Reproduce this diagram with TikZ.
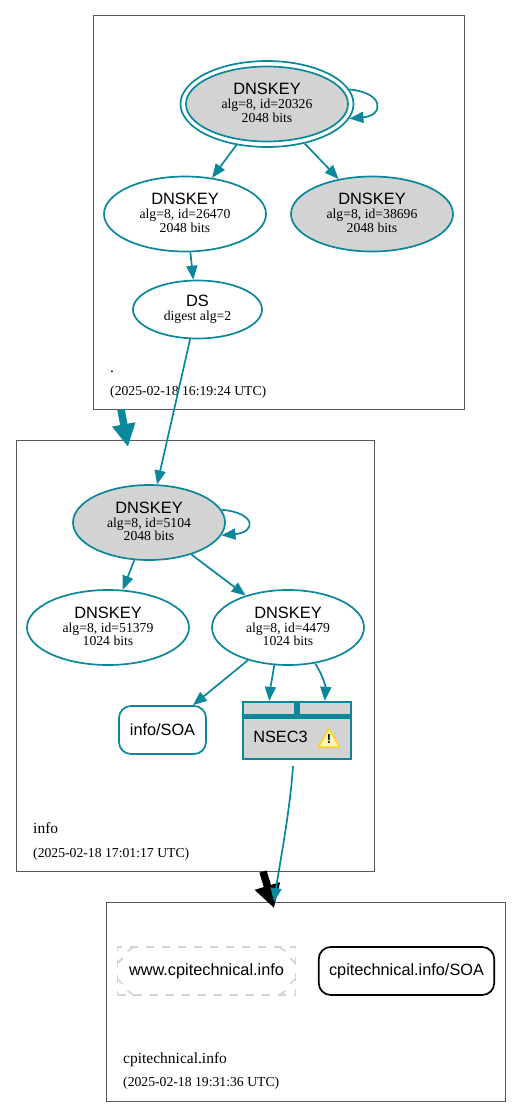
\documentclass[tikz,border=0pt]{standalone}
\usepackage{fontspec}
\setmainfont{Liberation Serif}
\newfontfamily\dnssans{Liberation Sans}
\usepackage{xcolor}
\usetikzlibrary{positioning,arrows.meta,shapes.geometric,calc}
\definecolor{dnsline}{HTML}{0A879A}
\definecolor{dnsfill}{HTML}{D3D3D3}
\definecolor{warnfill}{HTML}{FFF4B8}
\definecolor{warnline}{HTML}{FFD21F}
\newcommand{\keytext}[2]{{\fontsize{16.4}{15}\dnssans DNSKEY}\\[2pt]{\fontsize{13.7}{13}\selectfont alg=8, id=#1}\\{\fontsize{13.7}{13}\selectfont #2 bits\rule[-2pt]{0pt}{0pt}}}

\begin{document}
\begin{tikzpicture}[
  x=1pt,y=-1pt,
  >={Triangle[length=14pt,width=11pt]},
  zone/.style={draw=black!65,line width=0.7pt,minimum width=#1,inner sep=0pt},
  zonelab/.style={anchor=base west,inner sep=0pt,font=\fontsize{15.5}{16}\selectfont},
  zonetime/.style={anchor=base west,inner sep=0pt,font=\fontsize{13.7}{14}\selectfont},
  key/.style={ellipse,draw=dnsline,line width=1.7pt,minimum width=162pt,minimum height=75pt,inner sep=0pt,align=center},
  keyfill/.style={key,fill=dnsfill},
  rrset/.style={draw=dnsline,line width=1.7pt,rounded corners=12pt,minimum height=48pt,inner sep=0pt,font=\fontsize{16.3}{18}\dnssans},
  cell/.style={draw=dnsline,fill=dnsfill,line width=2.3pt,inner sep=0pt},
  wwwline/.style={draw=dnsfill,line width=1.7pt},
  edge/.style={->,draw=dnsline,line width=1.7pt},
  zoneedge/.style={-{Triangle[length=23pt,width=#1]},line width=7.5pt},
]
\useasboundingbox (0,0) rectangle (521,1117);
% zones
\node[zone=370.5pt,minimum height=394pt] (root) at (278.75,212.5) {};
\node[zone=358.5pt,minimum height=431pt] (info) at (195.25,656) {};
\node[zone=398.5pt,minimum height=199pt] (cpi) at (305.75,1001.5) {};
\node[zonelab] (rootname) at (110,372) {.};
\node[zonetime] (roottime) at (110,395) {(2025-02-18 16:19:24 UTC)};
\node[zonelab] (infoname) at (33,833) {info};
\node[zonetime] (infotime) at (33,857) {(2025-02-18 17:01:17 UTC)};
\node[zonelab] (cpiname) at (123,1063) {cpitechnical.info};
\node[zonetime] (cpitime) at (123,1086) {(2025-02-18 19:31:36 UTC)};
% keys
\node[key,minimum width=173pt,minimum height=86pt] (k20326o) at (267,104) {};
\node[keyfill] (k20326) at (267,104) {\keytext{20326}{2048}};
\node[key] (k26470) at (185,214) {\keytext{26470}{2048}};
\node[keyfill] (k38696) at (372,214) {\keytext{38696}{2048}};
\node[key,minimum width=129pt,minimum height=58pt] (ds) at (197.5,309.5) {{\fontsize{16.4}{15}\dnssans DS}\\[2pt]{\fontsize{13.7}{13}\selectfont digest alg=2}};
\node[keyfill,minimum width=152pt] (k5104) at (149,522.5) {\keytext{5104}{2048}};
\node[key] (k51379) at (108,627.5) {\keytext{51379}{1024}};
\node[key,minimum width=152pt] (k4479) at (288,627.5) {\keytext{4479}{1024}};
% rrsets
\node[rrset,minimum width=87pt] (soa) at (162.5,730) {info/SOA};
\node[rrset,minimum width=175.5pt,draw=black] (cpisoa) at (406.5,971) {cpitechnical.info/SOA};
\node[rrset,minimum width=178pt,wwwline,sharp corners,dash pattern=on 8pt off 8pt] (www) at (206.5,971) {www.cpitechnical.info};
\foreach \c/\sx/\sy in {north west/1/1,north east/-1/1,south west/1/-1,south east/-1/-1}{
  \draw[wwwline] ($(www.\c)+(18*\sx,0)$) -- ($(www.\c)+(11*\sx,5*\sy)$);
  \draw[wwwline] ($(www.\c)+(1*\sx,17*\sy)$) -- ($(www.\c)+(6*\sx,12*\sy)$);
}
% nsec3
\node[cell,minimum width=108pt,minimum height=57pt] (nsec) at (297,730.5) {};
\node[cell,minimum width=52.5pt,minimum height=13pt] (nseca) at (269.25,708.5) {};
\node[cell,minimum width=52.5pt,minimum height=13pt] (nsecb) at (324.75,708.5) {};
\node[cell,minimum width=108pt,minimum height=41.5pt] (nsecc) at (297,738.25) {};
\node[inner sep=0pt,font=\fontsize{16.3}{18}\dnssans] (nsectext) at (280.5,736.5) {NSEC3};
\node[regular polygon,regular polygon sides=3,draw=warnline,fill=warnfill,line width=1.6pt,rounded corners=1pt,minimum size=25pt,inner sep=0pt] (warn) at (329,741) {};
\node[inner sep=0pt,font=\fontsize{13}{13}\dnssans\bfseries] (warnmark) at (329,739.5) {!};
% connectors
\coordinate (nsecout) at (293,766);
\coordinate (cpiin) at (274,902);
\coordinate (roota) at (121,409.5);
\coordinate (infoa) at (128,447);
\coordinate (infob) at (263,871.5);
\coordinate (cpib) at (274,908);
\draw[edge] (k20326o.10) .. controls +(35,3) and +(35,-3) .. (k20326o.-10);
\draw[edge] (k5104.10) .. controls +(35,3) and +(35,-3) .. (k5104.-10);
\draw[edge] (k20326o) -- (k26470);
\draw[edge] (k20326o) -- (k38696);
\draw[edge] (k26470.-82) -- (ds.98);
\draw[edge] (ds.-104) -- (k5104.78);
\draw[edge] (k5104) -- (k51379);
\draw[edge] (k5104) -- (k4479);
\draw[edge] (k4479) -- (soa);
\draw[edge] (k4479.-110.5) .. controls +(-2,12) and +(1,-12) .. (nseca.north);
\draw[edge] (k4479.-53) .. controls +(7,10) and +(1,-14) .. (nsecb.north);
\draw[zoneedge=22pt,draw=dnsline] (roota) -- (infoa);
\draw[zoneedge=25pt] (infob) -- (cpib);
\draw[edge] (nsecout) .. controls +(-3,45) and +(6,-40) .. (cpiin);
\end{tikzpicture}
\end{document}
